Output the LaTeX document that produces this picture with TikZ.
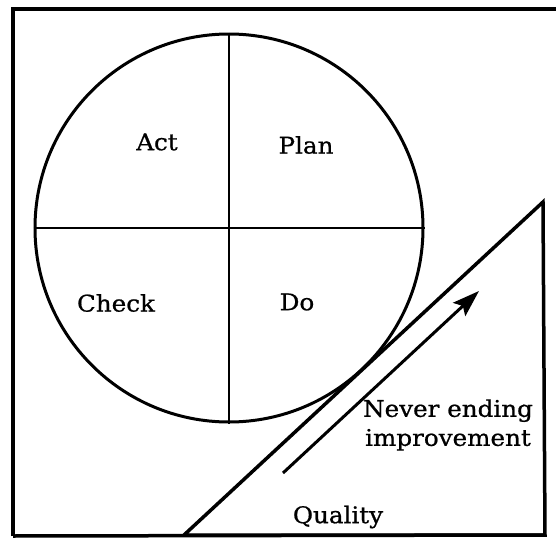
\documentclass[tikz,border=0pt]{standalone}
\usepackage{fontspec}
\setmainfont{DejaVu Serif}[FakeStretch=1.07,FakeBold=0.8]
\usetikzlibrary{arrows.meta}
\tikzset{
  frameline/.style={line width=3.5pt},
  wheel/.style={circle, draw, line width=3pt, minimum size=388pt, inner sep=0pt},
  divider/.style={line width=2.5pt},
  wedge/.style={line width=3.5pt, line join=miter},
  growth/.style={line width=3pt, -{Stealth[length=27pt,width=18pt,inset=5pt]}},
  lbl/.style={font=\fontsize{23}{29}\selectfont, inner sep=0pt},
}
\begin{document}
\begin{tikzpicture}[x=1pt,y=-1pt]
\useasboundingbox (0,0) rectangle (558,552);
% frame
\coordinate (fbl) at (13,536);
\coordinate (ftl) at (13,9);
\coordinate (ftr) at (556,9);
\draw[frameline] (fbl) -- (ftl) -- (ftr);
% wheel
\node[wheel] (c) at (229,228) {};
\draw[divider] (c.north) -- (c.south);
\draw[divider] (c.west) -- (c.east);
\node[lbl] (act) at (157,142) {Act};
\node[lbl] (plan) at (306,145) {Plan};
\node[lbl] (check) at (116,303) {Check};
\node[lbl] (do) at (297,302) {Do};
% wedge
\coordinate (ta) at (184,535);
\coordinate (tb) at (545,535);
\coordinate (tc) at (543,202);
\draw[wedge] (fbl) -- (tb);
\draw[wedge] (ta) -- (tb) -- (tc) -- cycle;
% arrow
\coordinate (as) at (283,473);
\coordinate (ae) at (479,291);
\draw[growth] (as) -- (ae);
\node[lbl, align=center] (never) at (448,425) {Never ending\\improvement};
\node[lbl] (quality) at (338,517) {Quality};
\end{tikzpicture}
\end{document}
